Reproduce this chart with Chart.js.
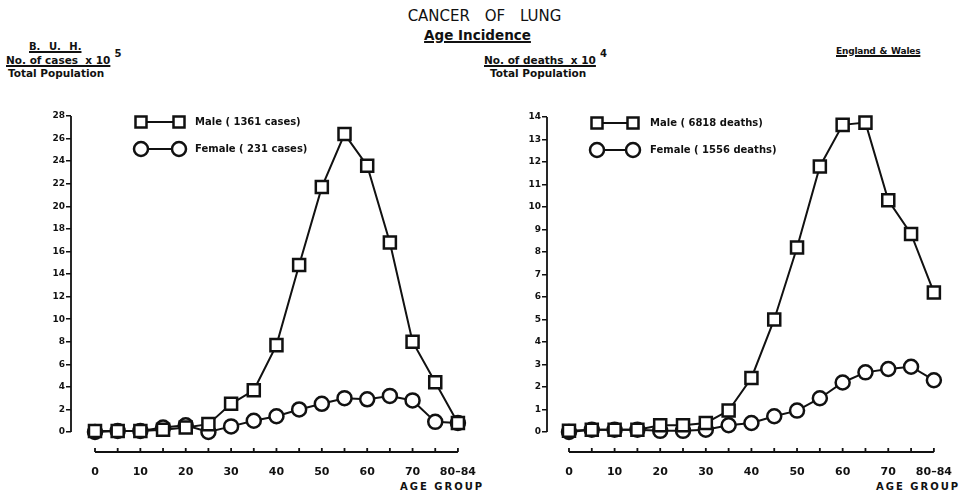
<!DOCTYPE html>
<html>
<head>
<meta charset="utf-8">
<script src="https://cdn.jsdelivr.net/npm/chart.js@4.4.1/dist/chart.umd.min.js"></script>
<style>
body { margin: 0; background: #fff; width: 969px; height: 493px; position: relative; overflow: hidden; font-family: "DejaVu Sans", sans-serif; color: #111; }
.t { position: absolute; white-space: nowrap; font-weight: bold; line-height: 1; }
.u { text-decoration: underline; text-decoration-thickness: 1.5px; text-underline-offset: 1px; }
.sup { font-size: 10px; position: relative; top: -7px; margin-left: 4px; }
.box { position: absolute; top: 0; height: 493px; }
</style>
</head>
<body>
<div class="t" style="left:0;width:969px;top:9px;text-align:center;font-size:15px;font-weight:normal;word-spacing:10px">CANCER OF LUNG</div>
<div class="t u" style="left:0;width:955px;top:29px;text-align:center;font-size:13.5px">Age Incidence</div>

<div class="t u" style="left:29px;top:42px;font-size:10px;word-spacing:5px">B. U. H.</div>
<div class="t" style="left:6px;top:55px;font-size:10.5px"><span class="u">No. of cases&nbsp; x 10</span><span class="sup">5</span></div>
<div class="t" style="left:8px;top:68px;font-size:10.5px">Total Population</div>

<div class="t" style="left:484px;top:55px;font-size:10.5px"><span class="u">No. of deaths&nbsp; x 10</span><span class="sup">4</span></div>
<div class="t" style="left:490px;top:68px;font-size:10.5px">Total Population</div>
<div class="t u" style="left:836px;top:47px;font-size:9px;letter-spacing:-0.2px;word-spacing:1px">England &amp; Wales</div>

<div class="t" style="left:400px;top:482px;font-size:10px;letter-spacing:2px">AGE GROUP</div>
<div class="t" style="left:876px;top:482px;font-size:10px;letter-spacing:2px">AGE GROUP</div>

<div class="box" style="left:0;width:485px"><canvas id="buh" width="485" height="493"></canvas></div>
<div class="box" style="left:485px;width:484px"><canvas id="ew" width="484" height="493"></canvas></div>

<script>
// age groups (start of each 5 year band, last one is 80-84)
const ages = [0, 5, 10, 15, 20, 25, 30, 35, 40, 45, 50, 55, 60, 65, 70, 75, 80];
const xTickLabels = ['0', '', '10', '', '20', '', '30', '', '40', '', '50', '', '60', '', '70', '', '80–84'];

// B.U.H. - cases x 10^5 / total population
const buhMale   = [0.1, 0.1, 0.1, 0.2, 0.4, 0.7, 2.5, 3.7, 7.7, 14.8, 21.7, 26.4, 23.6, 16.8, 8.0, 4.4, 0.8];
const buhFemale = [0.0, 0.1, 0.1, 0.4, 0.6, 0.0, 0.5, 1.0, 1.4, 2.0, 2.5, 3.0, 2.9, 3.2, 2.8, 0.9, 0.8];
const buhYTicks = [0, 2, 4, 6, 8, 10, 12, 14, 16, 18, 20, 22, 24, 26, 28];
const buhLegend = ['Male ( 1361 cases)', 'Female ( 231 cases)'];

// England & Wales - deaths x 10^4 / total population
const ewMale   = [0.05, 0.1, 0.1, 0.1, 0.3, 0.3, 0.4, 0.95, 2.4, 5.0, 8.2, 11.8, 13.65, 13.75, 10.3, 8.8, 6.2];
const ewFemale = [0.0, 0.1, 0.1, 0.1, 0.05, 0.05, 0.1, 0.3, 0.4, 0.7, 0.95, 1.5, 2.2, 2.65, 2.8, 2.9, 2.3];
const ewYTicks = [0, 1, 2, 3, 4, 5, 6, 7, 8, 9, 10, 11, 12, 13, 14];
const ewLegend = ['Male ( 6818 deaths)', 'Female ( 1556 deaths)'];

const ink = '#111';

// axis lines only span the ticks, like the hand drawn original
const axisPlugin = {
    id: 'handAxes',
    beforeDatasetsDraw(chart) {
        const ctx = chart.ctx;
        const x = chart.scales.x, y = chart.scales.y;
        const yt = chart.options.plugins.handAxes.yTicks;
        ctx.save();
        ctx.strokeStyle = ink;
        ctx.lineWidth = 1.8;
        ctx.beginPath();
        ctx.moveTo(x.left, y.getPixelForValue(yt[0]));
        ctx.lineTo(x.left, y.getPixelForValue(yt[yt.length - 1]));
        const b = chart.chartArea.bottom;
        ctx.moveTo(x.getPixelForValue(ages[0]), b);
        ctx.lineTo(x.getPixelForValue(ages[ages.length - 1]), b);
        ages.forEach(a => {
            const px = x.getPixelForValue(a);
            ctx.moveTo(px, b);
            ctx.lineTo(px, b - 4);
        });
        ctx.stroke();
        ctx.restore();
    }
};

// legend: marker - line - marker, then the label
const legendPlugin = {
    id: 'pairLegend',
    afterDraw(chart) {
        const o = chart.options.plugins.pairLegend;
        const ctx = chart.ctx;
        const left = chart.chartArea.left, top = chart.chartArea.top;
        ctx.save();
        ctx.strokeStyle = ink;
        o.labels.forEach((label, i) => {
            const cy = top + o.y + i * o.rowGap;
            const x1 = left + o.x, x2 = x1 + o.gap;
            ctx.lineWidth = 2;
            ctx.beginPath();
            ctx.moveTo(x1, cy);
            ctx.lineTo(x2, cy);
            ctx.stroke();
            ctx.lineWidth = 2.5;
            [x1, x2].forEach(cx => {
                ctx.beginPath();
                if (i === 0) ctx.rect(cx - 5.5, cy - 5.5, 11, 11);
                else ctx.arc(cx, cy, 7, 0, Math.PI * 2);
                ctx.fillStyle = '#fff';
                ctx.fill();
                ctx.stroke();
            });
            ctx.fillStyle = ink;
            ctx.font = 'bold 10px "DejaVu Sans"';
            ctx.textBaseline = 'middle';
            ctx.fillText(label, left + o.textX, cy);
        });
        ctx.restore();
    }
};

function makeChart(id, male, female, yTicks, yMin, legend, layout) {
    const pts = arr => arr.map((v, i) => ({ x: ages[i], y: v }));
    return new Chart(document.getElementById(id), {
        type: 'line',
        data: {
            datasets: [
                {
                    label: legend[0],
                    data: pts(male),
                    borderColor: ink,
                    borderWidth: 2,
                    pointStyle: 'rect',
                    pointRadius: 8.5,
                    pointBorderWidth: 2.5,
                    pointBackgroundColor: '#fff',
                    pointBorderColor: ink,
                    tension: 0,
                    clip: false
                },
                {
                    label: legend[1],
                    data: pts(female),
                    borderColor: ink,
                    borderWidth: 2,
                    pointStyle: 'circle',
                    pointRadius: 7,
                    pointBorderWidth: 2.5,
                    pointBackgroundColor: '#fff',
                    pointBorderColor: ink,
                    tension: 0,
                    clip: false
                }
            ]
        },
        options: {
            responsive: false,
            animation: false,
            devicePixelRatio: 1,
            layout: { padding: { top: layout.top, right: layout.right, left: 0, bottom: 0 } },
            scales: {
                x: {
                    type: 'linear',
                    min: layout.xMin,
                    max: 82,
                    afterBuildTicks: s => { s.ticks = ages.map(v => ({ value: v })); },
                    afterFit: s => { s.height = 41; },
                    grid: { display: false },
                    border: { display: false },
                    ticks: {
                        autoSkip: false,
                        maxRotation: 0,
                        padding: 6,
                        color: ink,
                        font: { family: 'DejaVu Sans', size: 11, weight: 'bold' },
                        callback: (v, i) => xTickLabels[i]
                    }
                },
                y: {
                    min: yMin,
                    max: yTicks[yTicks.length - 1],
                    afterBuildTicks: s => { s.ticks = yTicks.map(v => ({ value: v })); },
                    afterFit: s => { s.width = layout.yWidth; },
                    grid: { drawOnChartArea: false, drawTicks: true, tickLength: 5, color: ink, lineWidth: 1.5 },
                    border: { display: false },
                    ticks: {
                        padding: 1,
                        color: ink,
                        font: { family: 'DejaVu Sans', size: 9, weight: 'bold' }
                    }
                }
            },
            plugins: {
                legend: { display: false },
                tooltip: { enabled: false },
                handAxes: { yTicks: yTicks },
                pairLegend: { labels: legend, x: layout.legX, gap: layout.legGap, textX: layout.legText, y: 6, rowGap: 27 }
            }
        },
        plugins: [axisPlugin, legendPlugin]
    });
}

makeChart('buh', buhMale, buhFemale, buhYTicks, -1.77, buhLegend,
    { top: 116, right: 18, yWidth: 71, xMin: -5.29, legX: 70, legGap: 38, legText: 124 });
makeChart('ew', ewMale, ewFemale, ewYTicks, -0.89, ewLegend,
    { top: 117, right: 26, yWidth: 62, xMin: -4.82, legX: 50, legGap: 36, legText: 103 });
</script>
</body>
</html>
